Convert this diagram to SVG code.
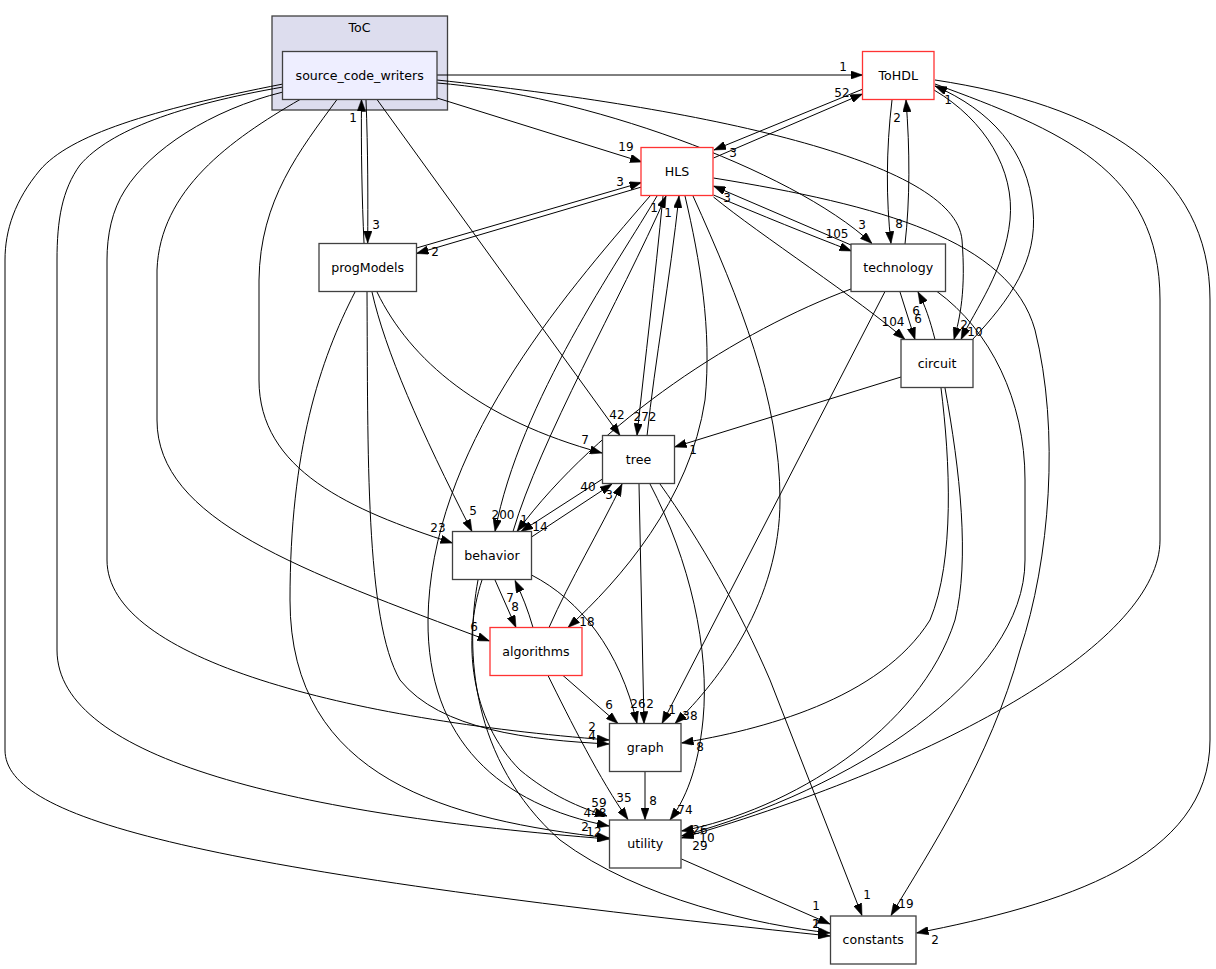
<svg xmlns="http://www.w3.org/2000/svg" width="1216" height="969" viewBox="0 0 1216 969">
<style>
.nd{fill:#ffffff;stroke:#404040;stroke-width:1.3}
.rd{fill:#ffffff;stroke:#ff3333;stroke-width:1.3}
.cl{fill:#ddddee;stroke:#404040;stroke-width:1.3}
.cur{fill:#eeeeff;stroke:#404040;stroke-width:1.3}
.nt{font-family:"DejaVu Sans","Liberation Sans",sans-serif;font-size:12.6px;fill:#000;text-anchor:middle}
.e path{fill:none;stroke:#000;stroke-width:1;marker-end:url(#ah)}
.lb{font-family:"DejaVu Sans","Liberation Sans",sans-serif;font-size:12px;fill:#000;text-anchor:middle}
</style>
<defs>
<marker id="ah" viewBox="0 0 10 10" refX="10" refY="5" markerWidth="12" markerHeight="8.5" orient="auto" markerUnits="userSpaceOnUse" preserveAspectRatio="none">
<path d="M0,0 L10,5 L0,10 z" fill="#000" stroke="#000" stroke-width="0.5"/>
</marker>
</defs>
<rect width="1216" height="969" fill="#ffffff"/>
<g id="cluster_ToC">
<rect class="cl" x="272" y="16" width="175.5" height="94"/>
<text class="nt" x="359.5" y="32">ToC</text>
</g>
<g id="connectors" class="e">
<path d="M437,75 L862.5,75"/>
<path d="M437,98 L642,162"/>
<path d="M366,100 C368,150 368,200 367.7,243"/>
<path d="M364,243 C362,200 361,150 361.5,99.5"/>
<path d="M437,83 C580,94 790,168 872,243.5"/>
<path d="M437,80 C700,108 955,160 962,240 C966,290 960,318 954,339.5"/>
<path d="M377,99.5 L620,435.5"/>
<path d="M337,99.5 C300,150 260,200 259,280 L259,380 C259,470 350,510 452.5,543"/>
<path d="M300,99.5 C230,140 160,190 157,270 L157,420 C157,520 300,570 489.5,641"/>
<path d="M283,92 C210,110 150,150 125,190 C112,210 107,235 107,260 L107,560 C107,660 350,720 609,740"/>
<path d="M283,87 C180,105 110,130 80,165 C62,190 57,220 57,260 L57,650 C57,760 300,815 609,839"/>
<path d="M283,84 C150,110 70,135 40,170 C15,200 5,230 5,260 L5,750 C5,820 200,870 830,936"/>
<path d="M416.5,248 L641.5,182.5"/>
<path d="M641.5,187 L416.5,253.5"/>
<path d="M377,292 C410,360 480,420 602,453"/>
<path d="M372,292 C385,350 420,430 472,531.5"/>
<path d="M367,292 C368,450 365,620 400,680 C440,730 530,740 609,744"/>
<path d="M355,292 C320,360 290,450 290,600 C290,780 450,820 609,838"/>
<path d="M863,89 L714,150"/>
<path d="M713.5,158 L862.5,94"/>
<path d="M713.5,195 C760,215 810,235 851.5,251"/>
<path d="M851,245 L713.5,186"/>
<path d="M713.5,197 C760,235 860,300 905,339.5"/>
<path d="M713.5,178 C880,205 1010,240 1035,330 C1060,430 1050,560 1020,650 C990,760 930,850 891,915.5"/>
<path d="M663,196 C655,280 645,360 637,435.5"/>
<path d="M647,436 C655,360 670,280 679,196"/>
<path d="M657,196 C620,260 520,400 495,531.5"/>
<path d="M513,531.5 C540,440 620,300 666,196"/>
<path d="M650,196 C560,300 430,450 428,620 C427,740 500,805 609,826"/>
<path d="M685,196 C700,260 712,330 705,400 C690,500 620,580 568,627.5"/>
<path d="M693,196 C740,300 780,400 780,500 C780,600 720,680 675,723.5"/>
<path d="M892,100 C886,150 886,200 891,243.5"/>
<path d="M905,244 C910,200 910,150 906,100"/>
<path d="M934,90 C985,120 1015,170 1010,220 C1005,270 975,310 961,339.5"/>
<path d="M972,340 C1010,300 1038,260 1033,210 C1028,150 990,110 935,86"/>
<path d="M935,84 C1060,130 1160,170 1160,300 L1160,540 C1160,640 950,760 681.5,838"/>
<path d="M935,80 C1100,105 1210,170 1210,300 L1210,740 C1210,860 1060,905 916.5,933"/>
<path d="M900,292 L915,339.5"/>
<path d="M935,339.5 C930,320 925,305 918,292"/>
<path d="M851,289 C740,330 600,420 517,531.5"/>
<path d="M885,291.5 L662,723.5"/>
<path d="M937,291.5 C990,330 1025,400 1025,480 L1025,560 C1025,680 850,790 681.5,836"/>
<path d="M901,377 L674.5,447"/>
<path d="M941,388 C950,460 955,560 930,620 C880,700 760,730 681.5,743"/>
<path d="M945,388 C960,470 970,560 955,620 C920,730 790,810 681.5,831"/>
<path d="M602.5,479 L521,531.5"/>
<path d="M531.5,537 L612,484"/>
<path d="M549,627.5 C570,580 600,530 622,484"/>
<path d="M495,580 L516,627.5"/>
<path d="M533,627.5 C528,610 522,595 515,580.5"/>
<path d="M531.5,575 C580,600 620,650 637,723.5"/>
<path d="M639,484 L644,723.5"/>
<path d="M650,484 C690,560 710,650 703,720 C698,770 685,800 670,820"/>
<path d="M660,484 C700,540 740,610 770,680 L862,915.5"/>
<path d="M482,580 C462,640 470,720 520,770 C550,795 580,808 607,816"/>
<path d="M478,580 C465,650 470,760 560,840 C640,900 760,925 830,933"/>
<path d="M563,675.5 L618,723.5"/>
<path d="M548,675.5 C570,720 600,780 628,819.5"/>
<path d="M645,771.5 L645,819.5"/>
<path d="M681.5,859 L830,924"/>
</g>
<g id="edge_labels">
<text class="lb" x="843" y="71">1</text>
<text class="lb" x="626" y="151">19</text>
<text class="lb" x="376" y="229">3</text>
<text class="lb" x="353" y="122">1</text>
<text class="lb" x="862" y="229">3</text>
<text class="lb" x="964" y="329">2</text>
<text class="lb" x="617" y="419">42</text>
<text class="lb" x="438" y="532">23</text>
<text class="lb" x="474" y="631">6</text>
<text class="lb" x="592" y="731">2</text>
<text class="lb" x="592" y="740">4</text>
<text class="lb" x="594" y="836">12</text>
<text class="lb" x="585" y="831">2</text>
<text class="lb" x="816" y="928">1</text>
<text class="lb" x="816" y="928">2</text>
<text class="lb" x="733" y="157">3</text>
<text class="lb" x="842" y="97">52</text>
<text class="lb" x="899" y="228">8</text>
<text class="lb" x="897" y="122">2</text>
<text class="lb" x="975" y="336">10</text>
<text class="lb" x="948" y="104">1</text>
<text class="lb" x="935" y="944">2</text>
<text class="lb" x="620" y="186">3</text>
<text class="lb" x="435" y="256">2</text>
<text class="lb" x="837" y="238">105</text>
<text class="lb" x="727" y="202">3</text>
<text class="lb" x="893" y="326">104</text>
<text class="lb" x="645" y="421">272</text>
<text class="lb" x="668" y="217">1</text>
<text class="lb" x="654" y="212">1</text>
<text class="lb" x="503" y="519">200</text>
<text class="lb" x="587" y="626">18</text>
<text class="lb" x="690" y="720">38</text>
<text class="lb" x="595" y="817">448</text>
<text class="lb" x="906" y="908">19</text>
<text class="lb" x="918" y="323">6</text>
<text class="lb" x="916" y="315">6</text>
<text class="lb" x="524" y="524">1</text>
<text class="lb" x="672" y="714">1</text>
<text class="lb" x="707" y="842">10</text>
<text class="lb" x="693" y="454">1</text>
<text class="lb" x="700" y="751">8</text>
<text class="lb" x="700" y="834">26</text>
<text class="lb" x="700" y="850">29</text>
<text class="lb" x="540" y="531">14</text>
<text class="lb" x="588" y="491">40</text>
<text class="lb" x="650" y="708">2</text>
<text class="lb" x="685" y="814">74</text>
<text class="lb" x="867" y="899">1</text>
<text class="lb" x="473" y="515">5</text>
<text class="lb" x="585" y="444">7</text>
<text class="lb" x="515" y="611">8</text>
<text class="lb" x="510" y="602">7</text>
<text class="lb" x="638" y="708">26</text>
<text class="lb" x="599" y="807">59</text>
<text class="lb" x="609" y="499">3</text>
<text class="lb" x="609" y="709">6</text>
<text class="lb" x="624" y="802">35</text>
<text class="lb" x="653" y="805">8</text>
<text class="lb" x="816" y="910">1</text>
</g>
<g id="source_code_writers"><rect class="cur" x="282.5" y="51.5" width="154.5" height="48"/><text class="nt" x="359.7" y="80">source_code_writers</text></g>
<g id="ToHDL"><rect class="rd" x="862.5" y="51.5" width="71.5" height="48"/><text class="nt" x="898.2" y="80">ToHDL</text></g>
<g id="HLS"><rect class="rd" x="641" y="147.5" width="72" height="48"/><text class="nt" x="677" y="176">HLS</text></g>
<g id="progModels"><rect class="nd" x="319" y="243.5" width="97.5" height="48"/><text class="nt" x="367.7" y="272">progModels</text></g>
<g id="technology"><rect class="nd" x="851" y="244" width="94.5" height="47.5"/><text class="nt" x="898.2" y="272">technology</text></g>
<g id="circuit"><rect class="nd" x="901" y="339.5" width="72" height="48"/><text class="nt" x="937" y="368">circuit</text></g>
<g id="tree"><rect class="nd" x="602.5" y="435.5" width="72" height="48"/><text class="nt" x="638.5" y="464">tree</text></g>
<g id="behavior"><rect class="nd" x="452.5" y="531.5" width="79" height="48"/><text class="nt" x="492" y="560">behavior</text></g>
<g id="algorithms"><rect class="rd" x="490" y="627.5" width="92" height="48"/><text class="nt" x="536" y="656">algorithms</text></g>
<g id="graph"><rect class="nd" x="609.5" y="723.5" width="71.5" height="48"/><text class="nt" x="645.2" y="752">graph</text></g>
<g id="utility"><rect class="nd" x="609.5" y="820" width="71.5" height="48"/><text class="nt" x="645.2" y="848">utility</text></g>
<g id="constants"><rect class="nd" x="830.5" y="916" width="85.5" height="48"/><text class="nt" x="873.2" y="944">constants</text></g>
</svg>
